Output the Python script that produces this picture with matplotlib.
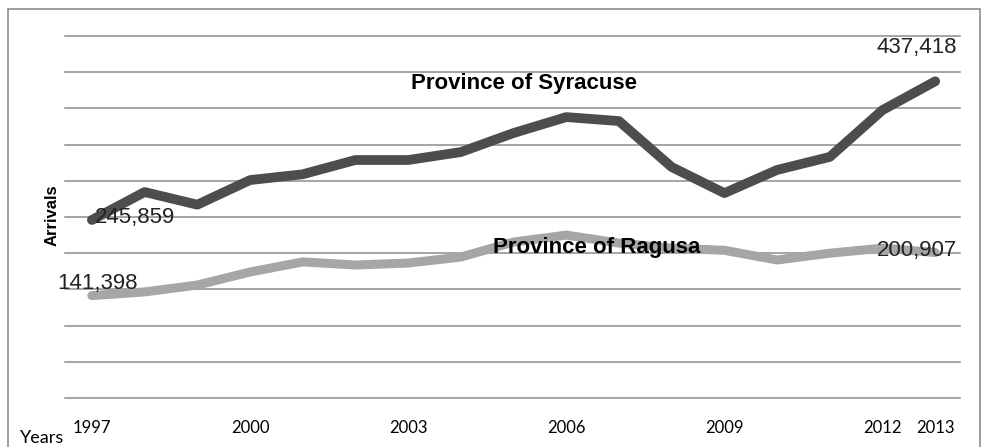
import matplotlib.pyplot as plt
from matplotlib.patches import Rectangle

plt.rcParams['font.family'] = ['Liberation Sans', 'DejaVu Sans']

years = list(range(1997, 2014))
syracuse = [245859, 284500, 267000, 301000, 309000, 328700, 328700, 339700,
            366000, 388000, 382500, 319000, 283000, 315000, 333000, 397700,
            437418]
ragusa = [141398, 146500, 156000, 174000, 188000, 183700, 186400, 194700,
          215400, 225000, 214000, 207000, 204000, 190600, 200000, 207000,
          200907]
tick_years = [1997, 2000, 2003, 2006, 2009, 2012, 2013]
grid_vals = list(range(0, 500001, 50000))

fig = plt.figure(figsize=(9.82, 4.47), dpi=100)
ax = fig.add_axes([65 / 982, 1 - 398 / 447, 895 / 982, 362 / 447])

# outer frame
fig.patches.append(Rectangle((8 / 982, -0.1), 972 / 982, 1.1 - 9 / 447,
                             transform=fig.transFigure, fill=False,
                             ec='#8c8c8c', lw=1.2))

ax.plot(years, syracuse, c='#4d4d4d', lw=7, solid_capstyle='round',
        solid_joinstyle='round', zorder=3)
ax.plot(years, ragusa, c='#a6a6a6', lw=6.5, solid_capstyle='round',
        solid_joinstyle='round', zorder=3)

ax.set_xlim(1996.49, 2013.47)
ax.set_ylim(0, 500000)
ax.set_yticks(grid_vals)
ax.set_yticklabels([])
ax.grid(axis='y', color='#8c8c8c', lw=1.1)
for gl in ax.get_ygridlines():
    gl.set_clip_on(False)
ax.set_axisbelow(True)
ax.set_xticks(tick_years)
ax.set_xticklabels([str(y) for y in tick_years], family=['Lato', 'DejaVu Sans'],
                   fontsize=12)
ax.tick_params(length=0, pad=16)
for s in ax.spines.values():
    s.set_visible(False)

# value labels
lab = dict(fontsize=16, color='#222222', zorder=5, textcoords='offset points')
ax.annotate('{:,}'.format(syracuse[0]), (years[0], syracuse[0]), xytext=(2, 1.5),
            ha='left', va='center', **lab)
ax.annotate('{:,}'.format(ragusa[0]), (years[0], ragusa[0]), xytext=(4, 9),
            ha='center', va='center', **lab)
ax.annotate('{:,}'.format(syracuse[-1]), (years[-1], syracuse[-1]), xytext=(16, 24),
            ha='right', va='center', **lab)
ax.annotate('{:,}'.format(ragusa[-1]), (years[-1], ragusa[-1]), xytext=(16, 1.5),
            ha='right', va='center', **lab)

ax.text(2005.2, 434000, 'Province of Syracuse', fontsize=16, fontweight='bold',
        ha='center', va='center', zorder=5)
ax.text(2006.57, 208500, 'Province of Ragusa', fontsize=16, fontweight='bold',
        ha='center', va='center', zorder=5)

fig.text(52 / 982, 1 - 215 / 447, 'Arrivals', rotation=90, fontsize=12,
         fontweight='bold', ha='center', va='center')
fig.text(20 / 982, 1 - 438 / 447, 'Years', family=['Lato', 'DejaVu Sans'],
         fontsize=13, ha='left', va='center')

fig.savefig('out.png', dpi=100)
